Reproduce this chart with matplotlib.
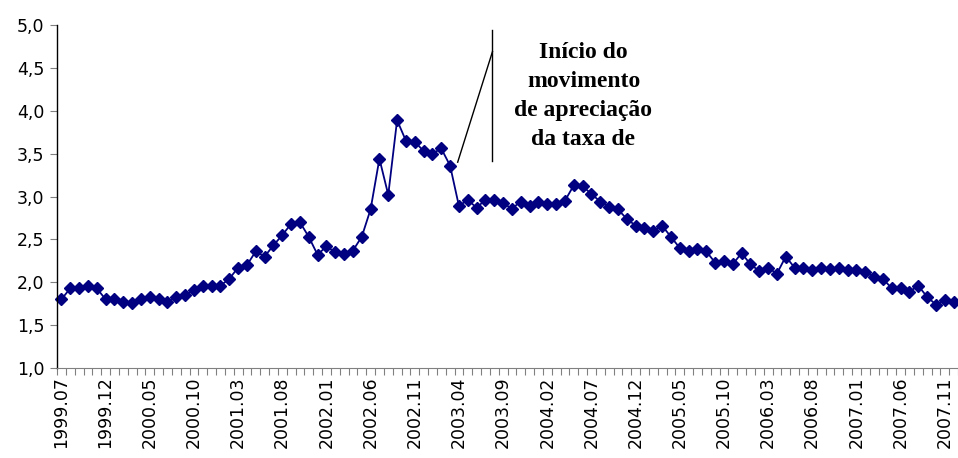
import numpy as np
import matplotlib.pyplot as plt

# monthly series 1999.07 .. 2007.12
years = [1999] * 6 + [y for y in range(2000, 2008) for _ in range(12)]
months = list(range(7, 13)) + list(range(1, 13)) * 8
labels = [f"{y}.{m:02d}" for y, m in zip(years, months)]

values = [
    1.80, 1.93, 1.93, 1.96, 1.93, 1.80,
    1.81, 1.77, 1.76, 1.81, 1.83, 1.80, 1.77, 1.83, 1.85, 1.91, 1.96, 1.96,
    1.96, 2.04, 2.17, 2.20, 2.36, 2.30, 2.43, 2.55, 2.68, 2.70, 2.53, 2.32,
    2.42, 2.35, 2.33, 2.37, 2.53, 2.85, 3.44, 3.02, 3.89, 3.65, 3.64, 3.53,
    3.50, 3.56, 3.36, 2.89, 2.96, 2.87, 2.96, 2.96, 2.92, 2.86, 2.94, 2.89,
    2.94, 2.91, 2.91, 2.95, 3.13, 3.12, 3.03, 2.94, 2.88, 2.85, 2.74, 2.66,
    2.63, 2.60, 2.66, 2.53, 2.40, 2.36, 2.39, 2.36, 2.23, 2.25, 2.21, 2.34,
    2.21, 2.13, 2.17, 2.10, 2.30, 2.17, 2.17, 2.14, 2.17, 2.16, 2.17, 2.14,
    2.14, 2.12, 2.06, 2.04, 1.93, 1.93, 1.89, 1.96, 1.83, 1.74, 1.79, 1.77,
]

note = "Início do\nmovimento\nde apreciação\nda taxa de"

x = np.arange(len(values))

fig = plt.figure(figsize=(9.58, 4.58), dpi=100)
ax = fig.add_axes([57 / 958, 1 - 368 / 458, 1 - 57 / 958, (368 - 25) / 458])

ax.plot(x, values, color="#000080", lw=1.3, marker="D", markersize=6.5,
        markeredgecolor="#000080", markerfacecolor="#000080", clip_on=False)

ax.set_xlim(-0.5, 101.35)
ax.set_ylim(1.0, 5.0)
yt = np.arange(1.0, 5.01, 0.5)
ax.set_yticks(yt)
ax.set_yticklabels([f"{v:.1f}".replace(".", ",") for v in yt],
                   fontsize=12.5, family="DejaVu Sans")
ax.tick_params(axis="y", length=5, width=0.8, color="#808080", pad=4)

ax.set_xticks(x[::5])
ax.set_xticklabels(labels[::5], rotation=90, fontsize=12.5, family="DejaVu Sans")
ax.set_xticks(np.arange(-0.5, len(values), 1), minor=True)
ax.tick_params(axis="x", which="major", length=0, pad=6)
ax.tick_params(axis="x", which="minor", length=5, width=0.8, color="#808080")

for s in ["top", "right"]:
    ax.spines[s].set_visible(False)
ax.spines["left"].set_linewidth(1.0)
ax.spines["bottom"].set_color("#808080")

# annotation
ax.plot([44.86, 48.8], [3.40, 4.69], color="black", lw=1.0, clip_on=False)
ax.plot([48.8, 48.8], [3.41, 4.94], color="black", lw=1.0, clip_on=False)
ax.text(59.1, 4.17, note, ha="center", va="center", fontsize=17,
        fontweight="bold", family="Liberation Serif", linespacing=1.5)

fig.savefig("out.png", dpi=100)
